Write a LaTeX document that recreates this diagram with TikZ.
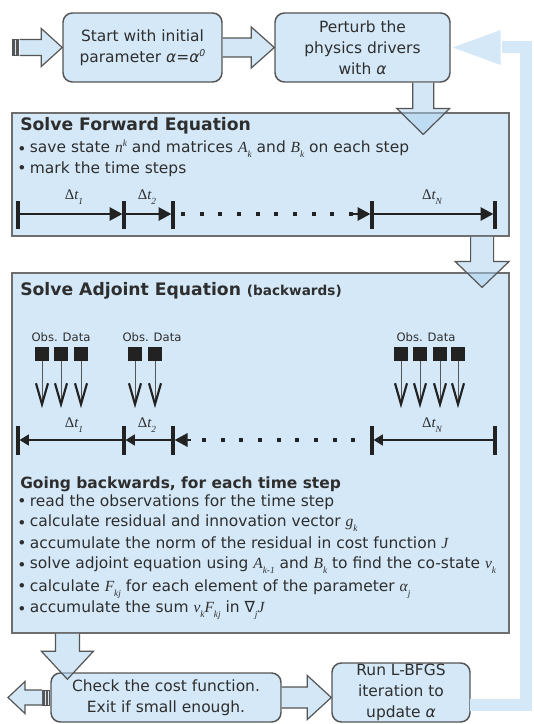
\documentclass[tikz,border=0pt]{standalone}
\usepackage{fontspec}
\setmainfont{DejaVu Sans}
\newfontfamily\tms{Liberation Serif}
\usetikzlibrary{arrows.meta,calc}
\definecolor{boxblue}{HTML}{D4E8F7}
\definecolor{arrblue}{HTML}{A9D1EF}
\definecolor{bord}{HTML}{555555}
\definecolor{txt}{HTML}{2E2E2E}
\definecolor{axc}{HTML}{222222}
\newcommand\mvar[1]{{\tms\itshape #1}}
\newcommand\subx[1]{\raisebox{-0.6ex}{\fontsize{7}{7}\selectfont\tms\itshape #1}}
\newcommand\supx[1]{\raisebox{0.7ex}{\fontsize{7}{7}\selectfont\tms\itshape #1}}
\newcommand\bulA{\makebox[9.5pt][l]{•}}
\newcommand\bulB{\makebox[9.5pt][l]{\raisebox{-0.35ex}{•}}}
\newcommand\dtl[1]{{\tms\fontsize{11}{12}\selectfont Δ\itshape t}\subx{#1}}
\newcommand\rarrow[5]{%
 \fill[blkfill] ($(#1)+(0,{-(#3)})$) -- ($(#2)+({-(#5)},{-(#3)})$) -- ($(#2)+({-(#5)},{-(#4)})$) -- (#2) -- ($(#2)+({-(#5)},#4)$) -- ($(#2)+({-(#5)},#3)$) -- ($(#1)+(0,#3)$) -- cycle;
 \draw[blkline] ($(#1)+(0,{-(#3)})$) -- ($(#2)+({-(#5)},{-(#3)})$) -- ($(#2)+({-(#5)},{-(#4)})$) -- (#2) -- ($(#2)+({-(#5)},#4)$) -- ($(#2)+({-(#5)},#3)$) -- ($(#1)+(0,#3)$);}
\newcommand\darrow[5]{%
 \fill[blkfill] ($(#1)+({-(#3)},0)$) -- ($(#2)+({-(#3)},{-(#5)})$) -- ($(#2)+({-(#4)},{-(#5)})$) -- (#2) -- ($(#2)+(#4,{-(#5)})$) -- ($(#2)+(#3,{-(#5)})$) -- ($(#1)+(#3,0)$) -- cycle;
 \draw[blkline] ($(#1)+({-(#3)},0)$) -- ($(#2)+({-(#3)},{-(#5)})$) -- ($(#2)+({-(#4)},{-(#5)})$) -- (#2) -- ($(#2)+(#4,{-(#5)})$) -- ($(#2)+(#3,{-(#5)})$) -- ($(#1)+(#3,0)$);}
\begin{document}
\begin{tikzpicture}[x=0.75pt,y=-0.75pt,
 font=\fontsize{11.6}{15.75}\selectfont, text=txt,
 bx/.style={draw=bord, fill=boxblue, line width=1.1pt, rounded corners=7pt, align=center, inner sep=0pt},
 panel/.style={draw=bord!85, fill=boxblue, line width=0.9pt, inner sep=0pt},
 blkfill/.style={fill=arrblue, fill opacity=0.5},
 blkline/.style={draw=bord, line width=0.9pt, line join=miter},
 fbline/.style={draw=boxblue, line width=9pt, line join=miter},
 ln/.style={anchor=base west, inner sep=0pt},
 ttl/.style={anchor=base west, inner sep=0pt, font=\fontsize{12.9}{15}\selectfont\bfseries},
 obs/.style={anchor=base, inner sep=0pt, font=\fontsize{8.7}{10}\selectfont},
 dtlab/.style={anchor=base, inner sep=0pt},
 sq/.style={fill=axc, minimum size=10.5pt, inner sep=0pt},
 oshaft/.style={draw=bord, line width=0.6pt},
 vhead/.style={draw=axc, line width=1.6pt, line join=miter, line cap=butt},
 tick/.style={draw=axc, line width=3pt},
 axl/.style={draw=axc, line width=2.2pt},
 bigtip/.style={-{Triangle[length=9.75pt,width=9.75pt]}},
 smalltip/.style={-{Triangle[length=7pt,width=8pt]}},
 dots/.style={draw=axc, line width=3pt, dash pattern=on 3pt off 11pt}
]
\useasboundingbox (0,0) rectangle (533,724);
\fill[white] (0,0) rectangle (533,724);

% feedback loop
\node[bx, minimum width=138*0.75pt, minimum height=59*0.75pt] (run) at (401,692.5) {Run L-BFGS\\iteration to\\update {\itshape α}};
\node[bx, minimum width=175*0.75pt, minimum height=69*0.75pt] (b2) at (362.5,47.5) {Perturb the\\physics drivers\\with {\itshape α}};
\coordinate (fbA) at (526,705);
\coordinate (fbB) at (526,47.5);
\coordinate (fbH) at ($(b2.east)+(50,0)$);
\draw[fbline] ($(run.east)+(-1,12.5)$) -- (fbA) -- (fbB) -- ($(fbH)+(1,0)$);
\fill[boxblue] ($(fbH)+(0,-17.5)$) -- ($(b2.east)+(2,0)$) -- ($(fbH)+(0,17.5)$) -- cycle;

% top boxes
\node[bx, minimum width=159*0.75pt, minimum height=69*0.75pt] (b1) at (142.5,47.5) {Start with initial\\parameter {\itshape α}={\itshape α}\raisebox{0.7ex}{\fontsize{7}{7}\selectfont\itshape 0}};

% panels
\node[panel, minimum width=497*0.75pt, minimum height=123*0.75pt] (fwd) at (260.5,174.5) {};
\node[panel, minimum width=497*0.75pt, minimum height=360*0.75pt] (adj) at (260.5,453) {};

% bottom box
\node[bx, minimum width=230*0.75pt, minimum height=49*0.75pt] (chk) at (166,697.5) {Check the cost function.\\Exit if small enough.};

% entry arrow
\coordinate (entS) at (19.5,47.5);
\foreach \xx in {12,14.6,17.2} \draw[draw=bord, fill=boxblue, line width=0.5pt] (\xx,39.5) rectangle ++(1.6,16);
\rarrow{entS}{b1.west}{8}{19}{21}
% b1 -> b2
\rarrow{b1.east}{b2.west}{9.5}{20.5}{23}
% b2 -> fwd
\coordinate (d1s) at ($(b2.south east)+(-27.5,0)$);
\coordinate (d1t) at ($(d1s |- fwd.north)+(0,22)$);
\darrow{d1s}{d1t}{10.5}{26.5}{26}
% fwd -> adj
\coordinate (d2s) at ($(fwd.south east)+(-27.5,0)$);
\coordinate (d2t) at ($(d2s |- adj.north)+(0,15)$);
\darrow{d2s}{d2t}{11.5}{27}{26}
% adj -> chk
\coordinate (d3s) at ($(adj.south west)+(56,0)$);
\coordinate (d3t) at ($(d3s |- chk.north)+(0,7)$);
\darrow{d3s}{d3t}{12}{26}{28}
% chk -> run
\coordinate (crt) at (chk.east -| run.west);
\rarrow{chk.east}{crt}{10.5}{22}{24}
% exit arrow
\foreach \xx in {42,44.8,47.6} \draw[draw=bord, fill=boxblue, line width=0.5pt] (\xx,690) rectangle ++(1.8,15);
\coordinate (exS) at (42,697.5);
\coordinate (exT) at (8,697.5);
\rarrow{exS}{exT}{7.5}{16}{-17}

% forward panel text
\node[ttl] (ft) at (20,130) {Solve Forward Equation};
\node[ln] (f1) at (17,152) {\bulB save state \mvar{n}\supx{k} and matrices \mvar{A}\subx{k} and \mvar{B}\subx{k} on each step};
\node[ln] (f2) at (17,173) {\bulA mark the time steps};

% forward axis
\foreach \xx/\nm in {18/ft1,124/ft2,173/ft3,372/ft4,495/ft5} \coordinate (\nm) at (\xx,214);
\foreach \nm in {ft1,ft2,ft3,ft4,ft5} \draw[tick] ($(\nm)+(0,-13)$) -- ($(\nm)+(0,15)$);
\draw[axl,bigtip] (ft1) -- ($(ft2)+(-1.5,0)$);
\draw[axl,bigtip] (ft2) -- ($(ft3)+(-1.5,0)$);
\draw[dots] ($(ft3)+(8,0)$) -- ($(ft4)+(-16,0)$);
\draw[axl,bigtip] ($(ft4)+(-20,0)$) -- ($(ft4)+(-1.5,0)$);
\draw[axl,bigtip] (ft4) -- ($(ft5)+(-1.5,0)$);
\node[dtlab] at (74,199) {\dtl{1}};
\node[dtlab] at (147,199) {\dtl{2}};
\node[dtlab] at (432,199) {\dtl{N}};

% adjoint panel text
\node[ttl] (at) at (20,295) {Solve Adjoint Equation {\fontsize{10.2}{12}\selectfont (backwards)}};

% observations
\node[obs] at (61,341) {Obs. Data};
\node[obs] at (152,341) {Obs. Data};
\node[obs] at (426,341) {Obs. Data};
\foreach \xx/\nm in {42/o1,61/o2,81/o3,135/o4,155/o5,401/o6,420/o7,440/o8,458/o9}{
  \node[sq] (\nm) at (\xx,354) {};
  \coordinate (\nm t) at ($(\nm.south)+(0,43)$);
  \draw[oshaft] (\nm.south) -- (\nm t);
  \draw[vhead] ($(\nm t)+(-6,-21)$) -- (\nm t) -- ($(\nm t)+(6,-21)$);
}

% adjoint axis
\foreach \xx/\nm in {18/at1,124/at2,173/at3,372/at4,495/at5} \coordinate (\nm) at (\xx,440);
\foreach \nm in {at1,at2,at3,at4,at5} \draw[tick] ($(\nm)+(0,-14)$) -- ($(\nm)+(0,15)$);
\draw[axl,smalltip] (at2) -- ($(at1)+(1.5,0)$);
\draw[axl,smalltip] (at3) -- ($(at2)+(1.5,0)$);
\draw[axl,bigtip] ($(at3)+(18,0)$) -- ($(at3)+(1.5,0)$);
\draw[dots] ($(at3)+(29,0)$) -- ($(at4)+(-10,0)$);
\draw[axl,smalltip] (at5) -- ($(at4)+(1.5,0)$);
\node[dtlab] at (74,427) {\dtl{1}};
\node[dtlab] at (147,427) {\dtl{2}};
\node[dtlab] at (432,427) {\dtl{N}};

% adjoint text
\node[ttl, font=\fontsize{11.6}{15}\selectfont\bfseries] (g0) at (20,488) {Going backwards, for each time step};
\node[ln] (g1) at (17,506) {\bulA read the observations for the time step};
\node[ln] (g2) at (17,526) {\bulB calculate residual and innovation vector \mvar{g}\subx{k}};
\node[ln] (g3) at (17,548) {\bulA accumulate the norm of the residual in cost function \mvar{J}};
\node[ln] (g4) at (17,568) {\bulB solve adjoint equation using \mvar{A}\subx{k-1} and \mvar{B}\subx{k} to find the co-state \mvar{v}\subx{k}};
\node[ln] (g5) at (17,591) {\bulA calculate \mvar{F}\subx{kj} for each element of the parameter \mvar{α}\subx{j}};
\node[ln] (g6) at (17,612) {\bulB accumulate the sum \mvar{v}\subx{k}\mvar{F}\subx{kj} in ∇\subx{j}\mvar{J}};
\end{tikzpicture}
\end{document}
